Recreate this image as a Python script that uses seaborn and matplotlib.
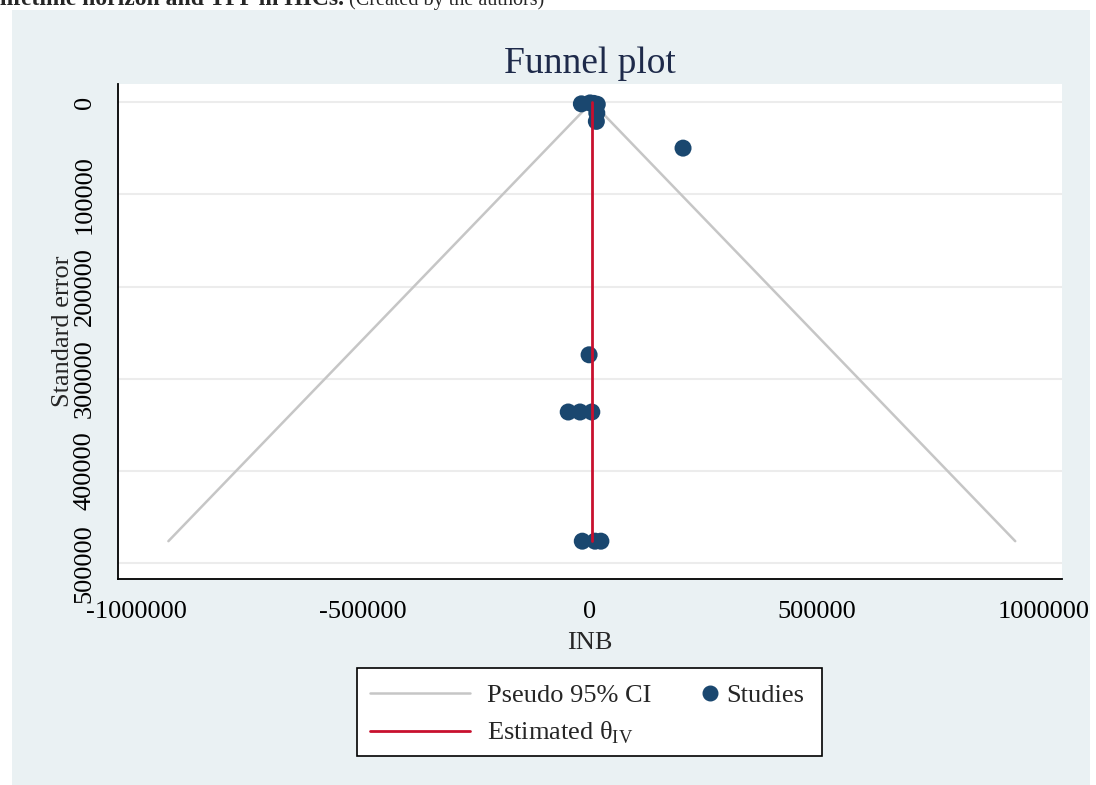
import numpy as np
import pandas as pd
import seaborn as sns
import matplotlib
matplotlib.use("Agg")
import matplotlib.pyplot as plt
from matplotlib.patches import Rectangle
from matplotlib.lines import Line2D

# Study estimates: incremental net benefit and its standard error
inb = [-19000, 0, 8000, 16000, 15000, 14000, 205000,
       -2000, -48000, -22000, 4000, -17000, 11000, 24000]
se = [2000, 1000, 1500, 2500, 12000, 21000, 50000,
      274000, 336000, 336000, 336000, 476000, 476000, 476000]
theta_iv = 4000  # pooled (inverse-variance) estimate

x_ticks = [-1000000, -500000, 0, 500000, 1000000]
y_ticks = [0, 100000, 200000, 300000, 400000, 500000]

navy = "#1a476f"
red = "#c8102e"
ci_gray = "#c6c6c6"
bg = "#eaf1f3"

sns.set_theme(style="white")
plt.rcParams["font.family"] = ["Liberation Serif", "DejaVu Serif"]
plt.rcParams["mathtext.fontset"] = "custom"
plt.rcParams["mathtext.rm"] = "Liberation Serif"

W, H = 1096, 785
fig = plt.figure(figsize=(W / 100, H / 100), dpi=100, facecolor="white")

def fx(px):
    return px / W

def fy(py):
    return 1 - py / H

# graph region background
fig.patches.append(Rectangle((fx(12), 0), fx(1090) - fx(12), fy(10),
                             transform=fig.transFigure, facecolor=bg,
                             edgecolor="none", zorder=-5))

ax = fig.add_axes([fx(118), fy(579), fx(1062) - fx(118), fy(84) - fy(579)])
ax.set_zorder(1)
ax.set_facecolor("white")

df = pd.DataFrame({"INB": inb, "SE": se})
se_max = max(se)

# pseudo 95% confidence funnel
funnel = pd.DataFrame({
    "INB": [theta_iv - 1.96 * se_max, theta_iv, theta_iv + 1.96 * se_max],
    "SE": [se_max, 0, se_max],
})
sns.lineplot(data=funnel, x="INB", y="SE", sort=False, estimator=None,
             color=ci_gray, lw=1.8, ax=ax, zorder=2)

# pooled estimate
est = pd.DataFrame({"INB": [theta_iv, theta_iv], "SE": [0, se_max]})
sns.lineplot(data=est, x="INB", y="SE", sort=False, estimator=None,
             color=red, lw=2.0, ax=ax, zorder=4)

sns.scatterplot(data=df, x="INB", y="SE", color=navy, s=150,
                edgecolor="none", linewidth=0, ax=ax, zorder=3)

ax.set_xlim(-1040000, 1040000)
ax.set_ylim(517000, -19500)
ax.set_xticks(x_ticks)
ax.set_yticks(y_ticks)
ax.set_xticklabels([str(v) for v in x_ticks])
ax.set_yticklabels([str(v) for v in y_ticks], rotation=90, va="center")
ax.tick_params(axis="both", direction="out", length=10, width=1.3,
               labelsize=19, colors="black", pad=6)
ax.grid(axis="y", color="#ececec", lw=1.5)
ax.grid(axis="x", visible=False)
ax.set_axisbelow(True)
for side in ("top", "right"):
    ax.spines[side].set_visible(False)
for side in ("left", "bottom"):
    ax.spines[side].set_color("black")
    ax.spines[side].set_linewidth(1.3)

ax.set_xlabel("INB", fontsize=19, labelpad=6)
ax.set_ylabel("Standard error", fontsize=19, labelpad=0)
fig.text(fx(590), fy(64), "Funnel plot", fontsize=27, color="#1e2a4a",
         ha="center", va="center")

# caption running off the top edge
cap = fig.text(fx(0), fy(5), "lifetime horizon and TPP in HICs.",
               fontsize=17, fontweight="bold", ha="left", va="baseline")
ax.annotate(" (Created by the authors)", xy=(1, 0), xycoords=cap,
            fontsize=14.5, ha="left", va="bottom", annotation_clip=False)

# legend box
fig.patches.append(Rectangle((fx(357), fy(756)), fx(822) - fx(357),
                             fy(668) - fy(756), transform=fig.transFigure,
                             facecolor="white", edgecolor="black", lw=1.2,
                             zorder=5))
h_ci = Line2D([], [], color=ci_gray, lw=1.8)
h_est = Line2D([], [], color=red, lw=2.0)
h_st = Line2D([], [], color=navy, marker="o", markersize=10.5, linestyle="none")
leg1 = fig.legend([h_ci, h_est], ["Pseudo 95% CI", r"Estimated θ$_{\mathrm{IV}}$"],
                  loc="upper left", bbox_to_anchor=(fx(370), fy(684)),
                  frameon=False, fontsize=19, handlelength=3.8,
                  handletextpad=0.65, borderpad=0, labelspacing=0.47,
                  borderaxespad=0)
leg1.set_zorder(6)
leg2 = fig.legend([h_st], ["Studies"], loc="upper left",
                  bbox_to_anchor=(fx(699), fy(684)), frameon=False,
                  fontsize=19, handlelength=0.8, handletextpad=0.25,
                  borderpad=0, borderaxespad=0)
leg2.set_zorder(6)

fig.savefig("out.png", dpi=100, facecolor=fig.get_facecolor())
